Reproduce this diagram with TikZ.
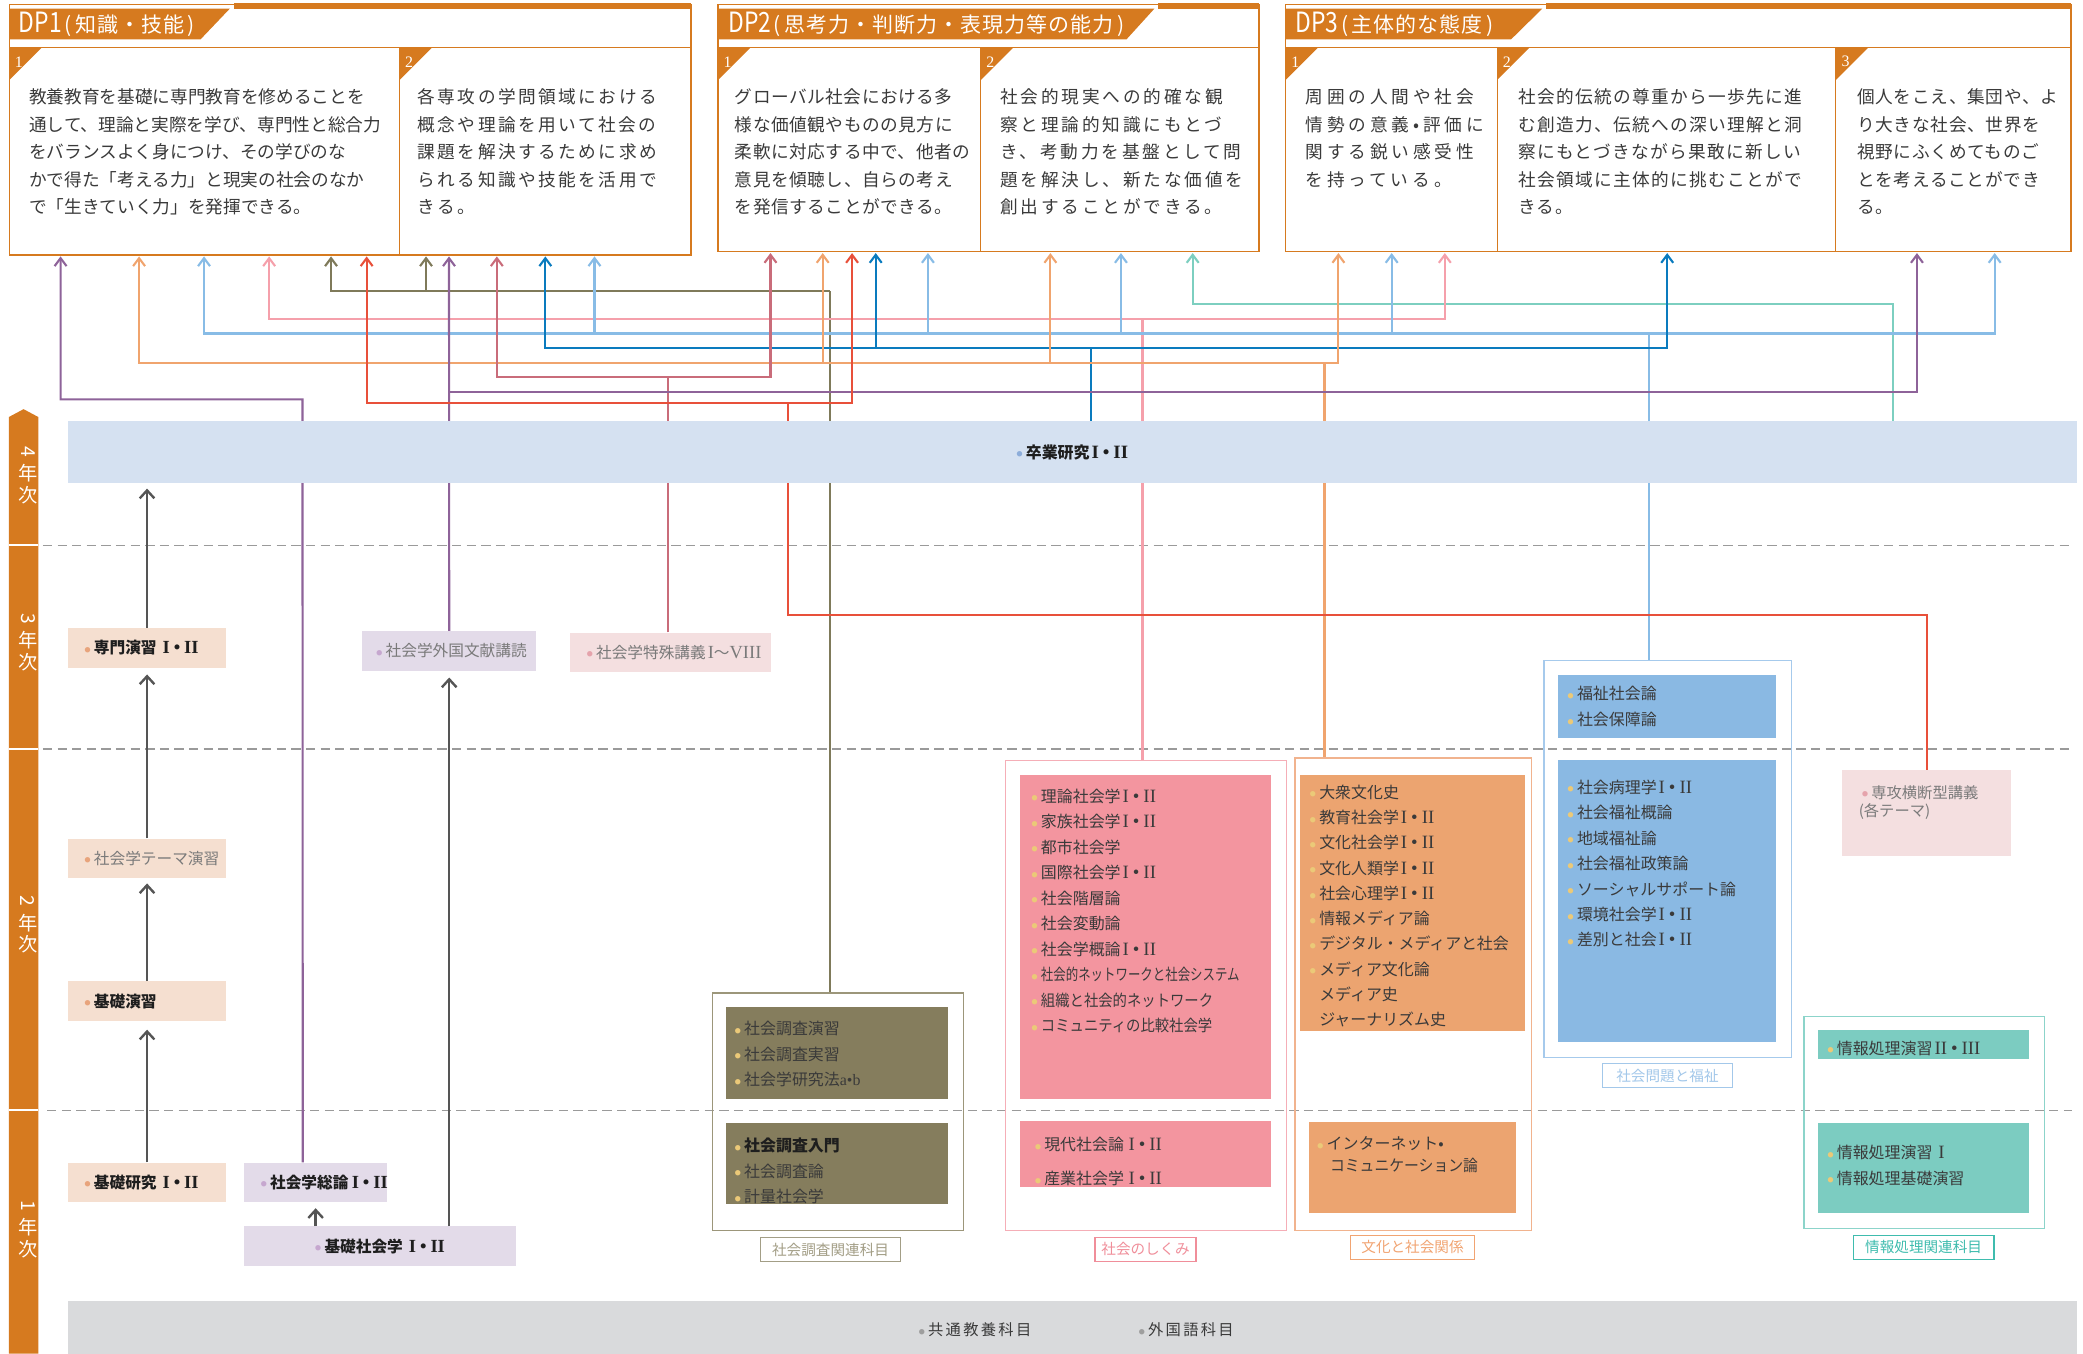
\documentclass[tikz,border=0pt]{standalone}
\usepackage{fontspec}
\setmainfont{Noto Sans CJK JP}
\newfontfamily\numfont{Liberation Serif}
\newfontfamily\romfont[Scale=1.18]{Liberation Serif}
\usepackage{graphicx}
\usetikzlibrary{arrows.meta,calc}
\pgfdeclarelayer{bg}
\pgfsetlayers{bg,main}

\definecolor{dporange}{HTML}{D67A1F}
\definecolor{dptxt}{HTML}{3A3A3A}
\definecolor{bandblue}{HTML}{D5E1F1}
\definecolor{bandgray}{HTML}{D9DADC}
\definecolor{peach}{HTML}{F5DFD0}
\definecolor{lavender}{HTML}{E3DBE9}
\definecolor{rosepale}{HTML}{F4DFE0}
\definecolor{lnpurple}{HTML}{8E6399}
\definecolor{lnorange}{HTML}{F0A46E}
\definecolor{lnltblue}{HTML}{88BCE6}
\definecolor{lnpink}{HTML}{F5A0AB}
\definecolor{lnolive}{HTML}{7F7A5A}
\definecolor{lnred}{HTML}{E8503A}
\definecolor{lnrose}{HTML}{C96C7A}
\definecolor{lndkblue}{HTML}{0A7BBE}
\definecolor{lnteal}{HTML}{7DCFC0}
\definecolor{arrgray}{HTML}{555555}
\definecolor{dashgray}{HTML}{9A9A9A}
\definecolor{olivefill}{HTML}{857D5D}
\definecolor{oliveline}{HTML}{9C967A}
\definecolor{olivelabel}{HTML}{A39E86}
\definecolor{pinkfill}{HTML}{F3959F}
\definecolor{pinkline}{HTML}{F5AEB7}
\definecolor{pinklabel}{HTML}{F08E9A}
\definecolor{orfill}{HTML}{ECA470}
\definecolor{orline}{HTML}{F1B38E}
\definecolor{orlabel}{HTML}{F1A472}
\definecolor{bluefill}{HTML}{8AB9E3}
\definecolor{blueline}{HTML}{A6CAEC}
\definecolor{bluelabel}{HTML}{A3C8EA}
\definecolor{tealfill}{HTML}{7CCCC1}
\definecolor{tealline}{HTML}{8CD4CA}
\definecolor{teallabel}{HTML}{3FBCAE}
\definecolor{dotyel}{HTML}{EBC978}
\definecolor{dotpeach}{HTML}{E8A47C}
\definecolor{dotlav}{HTML}{C6A7CF}
\definecolor{dotrose}{HTML}{E5A3AC}
\definecolor{dotblue}{HTML}{8DADDA}
\definecolor{dotgray}{HTML}{9E9E9E}
\definecolor{itemtxt}{HTML}{3A3A3A}
\definecolor{boldtxt}{HTML}{1E1E1E}
\definecolor{mutetxt}{HTML}{7A7A7A}

\newcommand{\dotm}[1]{\raisebox{1pt}{\color{#1}\fontsize{4.5}{4.5}\selectfont ●}\hspace{2.5pt}}
\newcommand{\yi}{\dotm{dotyel}}
\newcommand{\rnum}[1]{\hspace{1.5pt}{\romfont #1}}
\newcommand{\rdot}{\hspace{3pt}•\hspace{3pt}}
\newcommand{\lbt}[2]{\hspace*{12.5pt}\mbox{\dotm{#1}#2}}
\newcommand{\dpbig}[1]{{\fontsize{21}{21}\selectfont\scalebox{0.82}[1]{#1}}}
\newcommand{\dpsub}[1]{{\fontsize{15.8}{15.8}\selectfont\addfontfeature{LetterSpace=5}#1}}

\tikzset{
  dpframe/.style={draw=dporange, line width=1.1pt},
  dpline/.style={draw=dporange, line width=0.8pt},
  dphead/.style={anchor=west, inner sep=0pt, text=white},
  tabnum/.style={anchor=west, inner sep=0pt, text=white, font=\numfont\fontsize{12}{12}\selectfont},
  dptext/.style={anchor=north west, align=left, inner sep=0pt, text=dptxt,
    font=\fontsize{13.3}{20.7}\selectfont\addfontfeature{LetterSpace=#1}},
  yeartxt/.style={text=white, align=center, inner sep=0pt, font=\fontsize{14.5}{16.5}\selectfont},
  yrdash/.style={draw=dashgray, line width=1pt, dash pattern=on 7pt off 4pt},
  lbox/.style={anchor=north west, minimum height=29.6pt, inner sep=0pt, text width=#1,
    align=left, font=\fontsize{11.8}{14}\selectfont},
  grpbox/.style={anchor=north west, draw=#1, line width=1pt, inner sep=0pt},
  items/.style={anchor=north west, align=left, inner sep=0pt, text=itemtxt,
    font=\fontsize{12}{#1}\selectfont},
  grplabel/.style={draw=#1, text=#1, fill=white, line width=0.9pt, minimum height=18pt,
    inner sep=0pt, font=\fontsize{11}{11}\selectfont},
  bandtxt/.style={inner sep=0pt, text=dptxt, font=\fontsize{11.5}{12}\selectfont\addfontfeature{LetterSpace=15}},
  conn/.style={draw=#1, line width=1.6pt},
  garr/.style={draw=arrgray, line width=1.8pt, -{Straight Barb[length=6pt,width=11pt]}}
}

\begin{document}
\begin{tikzpicture}[x=1pt, y=-1pt, >={Straight Barb[length=6pt,width=9pt]}]
\useasboundingbox (0,0) rectangle (1568,1019);

% DP frames
\foreach \a/\b/\c/\d in {7/520/192/176, 540.6/947.8/189.4/872, 967.8/1559/189.4/1164} {
  \draw[dpframe] (\a,3.5) rectangle (\b,\c);
  \fill[dporange] (\d,2.5) rectangle (\b,6.5);
  \draw[dpline] (\a,35.6) -- (\b,35.6);
}
\foreach \a/\b/\c in {7/173/151, 540.6/869/848, 967.8/1161/1137.5}
  \fill[dporange] (\a,6.5) -- (\b,6.5) -- (\c,29.6) -- (\a,29.6) -- cycle;
\foreach \x/\c in {300.8/192, 738.3/189.4, 1127/189.4, 1382/189.4}
  \draw[dpline] (\x,35.6) -- (\x,\c);
\foreach \x/\n [count=\i] in {7/1, 300.8/2, 540.6/1, 738.3/2, 967.8/1, 1127/2, 1382/3} {
  \fill[dporange] (\x,35.6) -- ++(24.6,0) -- ++(-24.6,24.6) -- cycle;
  \node[tabnum] (tab\i) at (\x+4,46.5) {\n};
}

% DP headings
\node[dphead] (dp1) at (14,18) {\dpbig{DP1}\hspace{2pt}\dpsub{(\,知識・技能\,)}};
\node[dphead] (dp2) at (548,18) {\dpbig{DP2}\hspace{2pt}\dpsub{(\,思考力・判断力・表現力等の能力\,)}};
\node[dphead] (dp3) at (975,18) {\dpbig{DP3}\hspace{2pt}\dpsub{(\,主体的な態度\,)}};

% DP texts
\node[dptext=0] (t11) at (21.8,66.8) {教養教育を基礎に専門教育を修めることを\\通して、理論と実際を学び、専門性と総合力\\をバランスよく身につけ、その学びのな\\かで得た「考える力」と現実の社会のなか\\で「生きていく力」を発揮できる。};
\node[dptext=14] (t12) at (314.2,66.8) {各専攻の学問領域における\\概念や理論を用いて社会の\\課題を解決するために求め\\られる知識や技能を活用で\\きる。};
\node[dptext=3] (t21) at (553,66.8) {グローバル社会における多\\様な価値観やものの見方に\\柔軟に対応する中で、他者の\\意見を傾聴し、自らの考え\\を発信することができる。};
\node[dptext=16] (t22) at (752.8,66.8) {社会的現実への的確な観\\察と理論的知識にもとづ\\き、考動力を基盤として問\\題を解決し、新たな価値を\\創出することができる。};
\node[dptext=22] (t31) at (982.6,66.8) {周囲の人間や社会\\情勢の意義•評価に\\関する鋭い感受性\\を持っている。};
\node[dptext=7.5] (t32) at (1142.6,66.8) {社会的伝統の尊重から一歩先に進\\む創造力、伝統への深い理解と洞\\察にもとづきながら果敢に新しい\\社会領域に主体的に挑むことがで\\きる。};
\node[dptext=4] (t33) at (1397.8,66.8) {個人をこえ、集団や、よ\\り大きな社会、世界を\\視野にふくめてものご\\とを考えることができ\\る。};

% year bar
\fill[dporange] (6.7,1019) -- (6.7,313.9) -- (17.75,308) -- (28.8,313.9) -- (28.8,1019) -- cycle;
\foreach \y in {410.6,563.9,835.7}
  \draw[white, line width=1.5pt] (6.7,\y) -- (28.8,\y);
\node[yeartxt] (yr4) at (21,358) {\rotatebox[origin=c]{-90}{4}\\年\\次};
\node[yeartxt] (yr3) at (21,483.5) {\rotatebox[origin=c]{-90}{3}\\年\\次};
\node[yeartxt] (yr2) at (21,696) {\rotatebox[origin=c]{-90}{2}\\年\\次};
\node[yeartxt] (yr1) at (21,925) {\rotatebox[origin=c]{-90}{1}\\年\\次};

% bands
\node[fill=bandblue, minimum width=1512pt, minimum height=46.4pt, anchor=north west, inner sep=0pt,
  font=\fontsize{12}{12}\selectfont] (sotsu) at (51,317)
  {\dotm{dotblue}\textcolor{boldtxt}{\bfseries 卒業研究\rnum{I\rdot II}}};
\node[fill=bandgray, minimum width=1512pt, minimum height=39.6pt, anchor=north west, inner sep=0pt] (kyotsu) at (51,979.4) {};
\node[bandtxt] (kyo1) at (734,1001) {\dotm{dotgray}共通教養科目};
\node[bandtxt] (kyo2) at (893,1001) {\dotm{dotgray}外国語科目};

% left column
\node[lbox=119pt, fill=peach] (senmon) at (51,472.7) {\lbt{dotpeach}{\textcolor{boldtxt}{\bfseries 専門演習\rnum{\hspace{3pt}I\rdot II}}}};
\node[lbox=119pt, fill=peach] (theme) at (51,631) {\lbt{dotpeach}{\textcolor{mutetxt}{社会学テーマ演習}}};
\node[lbox=119pt, fill=peach] (kisoen) at (51,738.6) {\lbt{dotpeach}{\textcolor{boldtxt}{\bfseries 基礎演習}}};
\node[lbox=119pt, fill=peach] (kenkyu) at (51,875) {\lbt{dotpeach}{\textcolor{boldtxt}{\bfseries 基礎研究\rnum{\hspace{3pt}I\rdot II}}}};
\node[lbox=107.6pt, fill=lavender] (sogo) at (183.6,875) {\lbt{dotlav}{\textcolor{boldtxt}{\bfseries 社会学総論\rnum{\hspace{1pt}I\rdot II}}}};
\node[lbox=204.6pt, fill=lavender, align=center] (kisosha) at (183.6,923) {\mbox{\dotm{dotlav}\textcolor{boldtxt}{\bfseries 基礎社会学\rnum{\hspace{3pt}I\rdot II}}}};
\node[lbox=130.7pt, fill=lavender] (gaikoku) at (272.6,475) {\hspace*{-2pt}\lbt{dotlav}{\textcolor{mutetxt}{社会学外国文献講読}}};
\node[lbox=151pt, fill=rosepale] (tokushu) at (429,476) {\lbt{dotrose}{\textcolor{mutetxt}{社会学特殊講義\rnum{I}～{\romfont VIII}}}};

% social survey group
\node[grpbox=oliveline, minimum width=189.3pt, minimum height=179pt] (chosa) at (535.7,747) {};
\fill[olivefill] (546.5,757.8) rectangle (713.6,827.6);
\fill[olivefill] (546.5,845.6) rectangle (713.6,906.6);
\node[items=19.25] (chosa1) at (553,768.6) {\yi 社会調査演習\\\yi 社会調査実習\\\yi 社会学研究法{\numfont a•b}};
\node[items=19.15] (chosa2) at (553,856.6) {\yi\textcolor{boldtxt}{\bfseries 社会調査入門}\\\yi 社会調査論\\\yi 計量社会学};
\node[grplabel=olivelabel, minimum width=105.2pt] (chosalb) at (625.2,940.6) {社会調査関連科目};

% society group
\node[grpbox=pinkline, minimum width=211.5pt, minimum height=354pt] (shikumi) at (756.5,572) {};
\fill[pinkfill] (767.8,583.4) rectangle (956.6,827.5);
\fill[pinkfill] (767.8,843.9) rectangle (956.6,893.3);
\node[items=19.17] (shik1) at (776.4,593.6) {\yi 理論社会学\rnum{I\rdot II}\\\yi 家族社会学\rnum{I\rdot II}\\\yi 都市社会学\\\yi 国際社会学\rnum{I\rdot II}\\\yi 社会階層論\\\yi 社会変動論\\\yi 社会学概論\rnum{I\rdot II}\\\yi\scalebox{0.78}[1]{社会的ネットワークと社会システム}\\\yi\scalebox{0.9}[1]{組織と社会的ネットワーク}\\\yi\scalebox{0.9}[1]{コミュニティの比較社会学}};
\node[items=25.6] (shik2) at (778.9,856) {\yi 現代社会論\rnum{\hspace{2pt}I\rdot II}\\\yi 産業社会学\rnum{\hspace{2pt}I\rdot II}};
\node[grplabel=pinklabel, minimum width=76pt] (shikumilb) at (862.3,940.5) {社会のしくみ};

% culture group
\node[grpbox=orline, minimum width=178.1pt, minimum height=356pt] (bunka) at (974.4,570) {};
\fill[orfill] (978.6,583.4) rectangle (1148,775.9);
\fill[orfill] (985.4,844.4) rectangle (1141.2,913.4);
\node[items=19.03] (bunk1) at (985.9,590.6) {\yi 大衆文化史\\\yi 教育社会学\rnum{I\rdot II}\\\yi 文化社会学\rnum{I\rdot II}\\\yi 文化人類学\rnum{I\rdot II}\\\yi 社会心理学\rnum{I\rdot II}\\\yi 情報メディア論\\\yi デジタル・メディアと社会\\\yi メディア文化論\\\phantom{\yi}メディア史\\\phantom{\yi}ジャーナリズム史};
\node[items=16.3] (bunk2) at (991.5,855.3) {\yi インターネット•\\\hspace*{9.5pt}\scalebox{0.93}[1]{コミュニケーション論}};
\node[grplabel=orlabel, minimum width=93pt] (bunkalb) at (1063.3,938.8) {文化と社会関係};

% welfare group
\node[grpbox=blueline, minimum width=186.5pt, minimum height=298.7pt] (fukushi) at (1161.8,496.8) {};
\fill[bluefill] (1173,508) rectangle (1337,555.8);
\fill[bluefill] (1173,572) rectangle (1337,784.2);
\node[items=19.3] (fuku1) at (1179.9,516.6) {\yi 福祉社会論\\\yi 社会保障論};
\node[items=19.15] (fuku2) at (1179.9,586.8) {\yi 社会病理学\rnum{I\rdot II}\\\yi 社会福祉概論\\\yi 地域福祉論\\\yi 社会福祉政策論\\\yi ソーシャルサポート論\\\yi 環境社会学\rnum{I\rdot II}\\\yi 差別と社会\rnum{I\rdot II}};
\node[grplabel=bluelabel, minimum width=97.4pt] (fukushilb) at (1255.2,809.7) {社会問題と福祉};

% information group
\node[grpbox=tealline, minimum width=181.2pt, minimum height=160pt] (joho) at (1357.5,764.5) {};
\fill[tealfill] (1368.6,775.5) rectangle (1527.4,797);
\fill[tealfill] (1368.6,845) rectangle (1527.4,913);
\node[items=19] (joho1) at (1375.5,783.3) {\yi 情報処理演習\rnum{II\rdot III}};
\node[items=19.1] (joho2) at (1375.5,862.1) {\yi 情報処理演習\rnum{\hspace{3pt}I}\\\yi 情報処理基礎演習};
\node[grplabel=teallabel, minimum width=106pt] (joholb) at (1448,939) {情報処理関連科目};

% cross-major lecture
\node[anchor=north west, fill=rosepale, minimum width=127.3pt, minimum height=64.3pt, inner sep=0pt] (senko) at (1386.6,579.6) {};
\node[items=14, text=mutetxt, font=\fontsize{11.5}{14}\selectfont] (senkot) at (1401.5,591) {\dotm{dotrose}専攻横断型講義\\\hspace*{-2.5pt}(各テーマ)};

% gray arrows
\draw[garr] (kenkyu.north) -- ($(kisoen.south)+(0,6.5)$);
\draw[garr] (kisoen.north) -- ($(theme.south)+(0,4)$);
\draw[garr] (theme.north) -- ($(senmon.south)+(0,5)$);
\draw[garr] (senmon.north) -- ($(senmon.north |- sotsu.south)+(0,4)$);
\draw[garr] (sogo.south |- kisosha.north) -- ($(sogo.south)+(0,4.5)$);
\draw[garr] (gaikoku.south |- kisosha.north) -- ($(gaikoku.south)+(0,5)$);

\begin{pgfonlayer}{bg}
  % year lines
  \draw[yrdash] (32.3,410.6) -- (1560,410.6);
  \draw[yrdash] (32.3,563.9) -- (1560,563.9);
  \draw[yrdash] (35.5,835.7) -- (1560,835.7);

  % arrow feet on the DP boxes
  \foreach \n/\x/\y in {pu1/45.6/193, or1/104.7/193, lb1/153.6/193, pk1/202.6/193,
      ol1/249.2/193, rd1/276/193, ol2/320.7/193, pu2/338/193, rs1/374/193, db1/410.5/193,
      lb2/447.5/193, rs2/580/190.5, or2/619.3/190.5, rd2/641.4/190.5, db2/659.2/190.5,
      lb3/698.5/190.5, or3/790.7/190.5, lb4/843.8/190.5, tl1/897.8/190.5, or4/1007.5/190.5,
      lb5/1047.6/190.5, pk2/1087.6/190.5, db3/1255/190.5, pu3/1443/190.5, lb6/1501.5/190.5}
    \coordinate (\n) at (\x,\y);
  % junctions
  \coordinate (olJ) at (625,218.8);
  \coordinate (tlJ) at (1425,228.6);
  \coordinate (pkJ) at (860,240);
  \coordinate (lbJ) at (1241.6,251);
  \coordinate (dbJ) at (821,262);
  \coordinate (orJ) at (997,273);
  \coordinate (rsJ) at (503,284);
  \coordinate (puB) at (338,295);
  \coordinate (puA) at (227.7,300.6);
  \coordinate (rdJ) at (593,303.6);
  \coordinate (rdK) at (593,463);

  % olive
  \draw[conn=lnolive] (olJ |- chosa.north) -- (olJ);
  \foreach \n in {ol1,ol2} \draw[conn=lnolive,->] (olJ) -| (\n);
  % teal
  \draw[conn=lnteal,->] (tlJ |- sotsu.north) -- (tlJ) -| (tl1);
  % pink
  \draw[conn=lnpink] (pkJ |- shikumi.north) -- (pkJ);
  \foreach \n in {pk1,pk2} \draw[conn=lnpink,->] (pkJ) -| (\n);
  % light blue
  \draw[conn=lnltblue] (lbJ |- fukushi.north) -- (lbJ);
  \foreach \n in {lb1,lb2,lb3,lb4,lb5,lb6} \draw[conn=lnltblue,->] (lbJ) -| (\n);
  % dark blue
  \draw[conn=lndkblue] (dbJ |- sotsu.north) -- (dbJ);
  \foreach \n in {db1,db2,db3} \draw[conn=lndkblue,->] (dbJ) -| (\n);
  % orange
  \draw[conn=lnorange] (orJ |- bunka.north) -- (orJ);
  \foreach \n in {or1,or2,or3,or4} \draw[conn=lnorange,->] (orJ) -| (\n);
  % rose
  \draw[conn=lnrose] (rsJ |- tokushu.north) -- (rsJ);
  \foreach \n in {rs1,rs2} \draw[conn=lnrose,->] (rsJ) -| (\n);
  % purple
  \draw[conn=lnpurple,->] ($(sogo.north)+(-9.7,0)$) -- (puA) -| (pu1);
  \draw[conn=lnpurple,->] (gaikoku.north) -- (pu2);
  \draw[conn=lnpurple,->] (puB) -| (pu3);
  % red
  \draw[conn=lnred] (senko.north) |- (rdK) -- (rdJ);
  \foreach \n in {rd1,rd2} \draw[conn=lnred,->] (rdJ) -| (\n);
\end{pgfonlayer}
\end{tikzpicture}
\end{document}
